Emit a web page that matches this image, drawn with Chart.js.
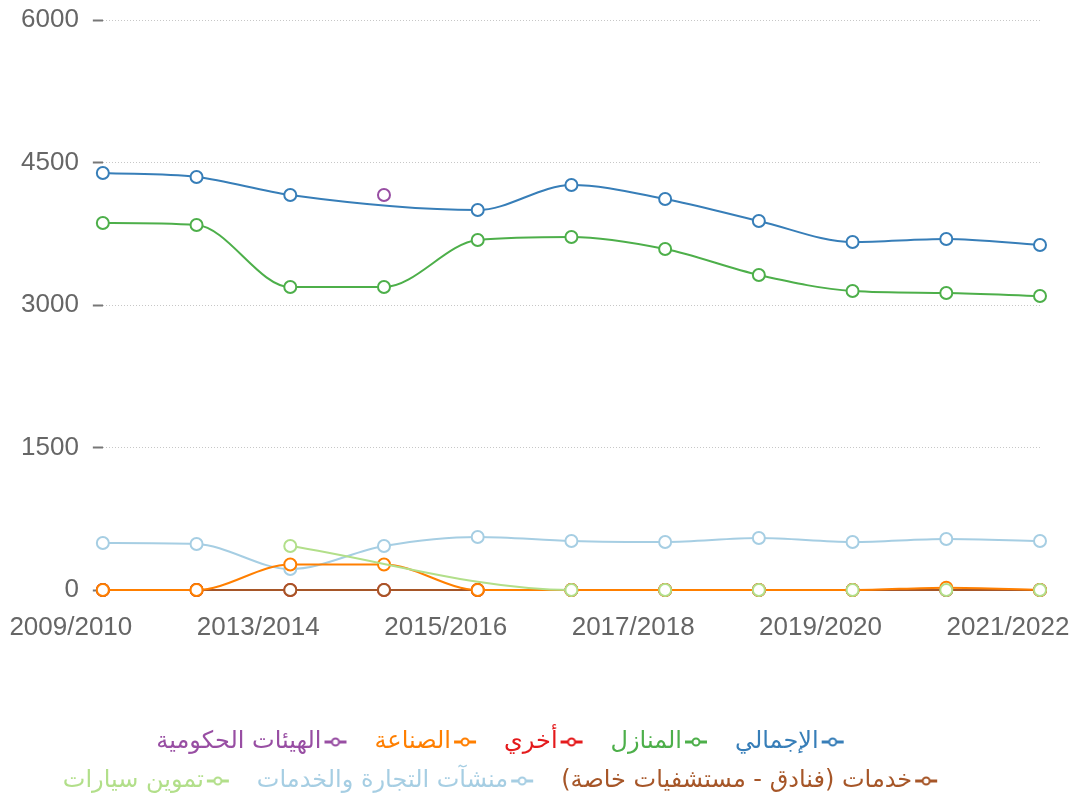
<!DOCTYPE html>
<html><head><meta charset="utf-8">
<script src="https://cdn.jsdelivr.net/npm/chart.js@4/dist/chart.umd.min.js"></script>
<style>html,body{margin:0;padding:0;background:#fff}#wrap{width:1070px;height:803px;position:relative}</style>
</head><body><div id="wrap"><canvas id="c"></canvas></div>
<script>
const categories = ['2009/2010','2011/2012','2013/2014','2014/2015','2015/2016','2016/2017','2017/2018','2018/2019','2019/2020','2020/2021','2021/2022'];
const seriesNames = ['الإجمالي','المنازل','أخري','الصناعة','الهيئات الحكومية','خدمات (فنادق - مستشفيات خاصة)','منشآت التجارة والخدمات','تموين سيارات'];
const totalValues      = [4389,4347,4158,null,4000,4263,4116,3884,3663,3695,3632];
const homesValues      = [3863,3842,3189,3189,3684,3716,3589,3316,3147,3126,3095];
const otherValues      = [0,0,0,0,0,0,0,0,0,0,0];
const industryValues   = [0,0,268,268,0,0,0,0,0,25,0];
const governmentValues = [null,null,null,4158,null,null,null,null,null,null,null];
const servicesValues   = [0,0,0,0,0,0,0,0,0,0,0];
const commerceValues   = [495,484,221,463,558,516,505,547,505,537,516];
const fuelValues       = [null,null,463,null,null,0,0,0,0,0,0];
const yTickValues = [0,1500,3000,4500,6000];
const colors = ['#377eb8','#4daf4a','#e41a1c','#ff7f00','#984ea3','#a65628','#a6cee3','#b2df8a'];
const drawOrder = [3,3,0,-2,2,-1,1,-3];

function legendIcon(color){
  // 46px wide canvas; icon sits in its left 24px so it hugs the label text (rtl)
  const c=document.createElement('canvas'); c.width=46; c.height=12;
  const g=c.getContext('2d');
  g.strokeStyle=color; g.lineWidth=3;
  g.beginPath(); g.moveTo(1,6); g.lineTo(23,6); g.stroke();
  g.fillStyle='#fff'; g.lineWidth=2;
  g.beginPath(); g.arc(12,6,3.5,0,Math.PI*2); g.fill(); g.stroke();
  return c;
}

const allValues=[totalValues,homesValues,otherValues,industryValues,governmentValues,servicesValues,commerceValues,fuelValues];
const datasets = allValues.map((vals,i)=>({
  label: seriesNames[i],
  data: vals,
  borderColor: colors[i],
  backgroundColor: colors[i],
  pointBackgroundColor:'#fff',
  pointBorderColor: colors[i],
  pointBorderWidth:2,
  pointRadius:6,
  borderWidth:2,
  fill:false,
  clip:false,
  spanGaps:true,
  cubicInterpolationMode:'monotone',
  order: drawOrder[i],
  segment: i===7 ? {borderColor: ctx => (ctx.p0.parsed.y===0 && ctx.p1.parsed.y===0) ? 'rgba(0,0,0,0)' : undefined} : undefined
}));

const legendShift = {
  id:'legendShift',
  afterLayout(chart){ const l=chart.legend; if(l){ l.left-=17; l.right-=17; } }
};

new Chart(document.getElementById('c'), {
  type:'line',
  data:{labels:categories, datasets},
  plugins:[legendShift],
  options:{
    responsive:true, maintainAspectRatio:false, animation:false,
    layout:{padding:{left:7,right:30,top:20,bottom:0}},
    plugins:{
      tooltip:{enabled:false},
      legend:{
        position:'bottom', rtl:true, align:'center',
        labels:{
          usePointStyle:true, pointStyleWidth:26, padding:15,
          font:{family:'DejaVu Sans', size:24},
          generateLabels(chart){
            return chart.data.datasets.map((ds,i)=>({
              text: ds.label, fillStyle:'#fff', strokeStyle: ds.borderColor, lineWidth:2,
              pointStyle: legendIcon(ds.borderColor), fontColor: ds.borderColor,
              hidden: !chart.isDatasetVisible(i), datasetIndex:i
            }));
          }
        }
      }
    },
    scales:{
      x:{
        grid:{display:false, drawTicks:false},
        border:{display:false},
        ticks:{font:{family:'Liberation Sans', size:26}, color:'#666', maxRotation:0, minRotation:0, labelOffset:-32, padding:22},
        afterFit(scale){ scale.paddingLeft=0; scale.paddingRight=0; scale.height=125; }
      },
      y:{
        min:0, max:6000,
        grid:{color:'rgba(0,0,0,0.22)', tickColor:'#777', tickLength:10, tickWidth:2, tickBorderDash:[]},
        border:{display:false, dash:[1,2]},
        ticks:{font:{family:'Liberation Sans', size:26}, color:'#666', padding:14, callback:v=>String(v)},
        afterBuildTicks(scale){ scale.ticks = yTickValues.map(v=>({value:v})); },
        afterFit(scale){ scale.paddingTop=0; scale.paddingBottom=0; }
      }
    }
  }
});
</script></body></html>
